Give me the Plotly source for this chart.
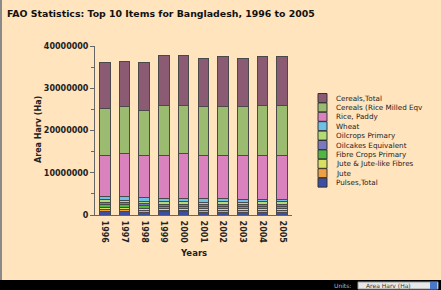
import plotly.graph_objects as go

years = ["1996", "1997", "1998", "1999", "2000", "2001", "2002", "2003", "2004", "2005"]

# series listed bottom of stack -> top of stack
series_names = [
    "Pulses,Total", "Jute", "Jute & Jute-like Fibres", "Fibre Crops Primary",
    "Oilcakes Equivalent", "Oilcrops Primary", "Wheat", "Rice, Paddy",
    "Cereals (Rice Milled Eqv", "Cereals,Total",
]
pulses = [820000, 840000, 650000, 730000, 720000, 610000, 670000, 610000, 590000, 580000]
jute = [520000, 480000, 460000, 410000, 430000, 440000, 430000, 430000, 450000, 470000]
jute_like = [550000, 520000, 500000, 440000, 460000, 470000, 460000, 460000, 480000, 500000]
fibre = [600000, 560000, 550000, 480000, 500000, 520000, 500000, 500000, 520000, 540000]
oilcakes = [480000, 480000, 460000, 440000, 440000, 440000, 450000, 460000, 480000, 500000]
oilcrops = [620000, 620000, 600000, 580000, 580000, 580000, 580000, 600000, 620000, 640000]
wheat = [710000, 800000, 880000, 820000, 770000, 740000, 710000, 640000, 560000, 470000]
rice_paddy = [9900000, 10300000, 10100000, 10300000, 10700000, 10400000, 10400000, 10500000, 10500000, 10500000]
cereals_milled = [11000000, 11000000, 10600000, 11800000, 11400000, 11400000, 11400000, 11400000, 11800000, 11800000]
cereals_total = [11000000, 10800000, 11400000, 11800000, 11800000, 11500000, 11800000, 11500000, 11600000, 11600000]
series_values = [pulses, jute, jute_like, fibre, oilcakes, oilcrops, wheat,
                 rice_paddy, cereals_milled, cereals_total]
series_colors = ["#3C4FA0", "#F0A040", "#D8E060", "#50B840", "#7B78C0",
                 "#B4DA78", "#6EC0E8", "#DA82BE", "#9BBB70", "#8B5A73"]

W, H = 441, 290
L, R, T, B = 95, 149, 46, 75
PW, PH = W - L - R, H - T - B
BG = "#FFE4BD"


def px_x(x):
    return (x - L) / PW


def px_y(y):
    return (H - B - y) / PH


fig = go.Figure()
for name, vals, col in zip(series_names, series_values, series_colors):
    fig.add_trace(go.Bar(
        x=years, y=vals, name=name,
        marker=dict(color=col, line=dict(color="#4a4a4a", width=1)),
        showlegend=False,
    ))

shapes = []
annotations = []
# custom compact legend, top item = top of stack
for i, (name, col) in enumerate(zip(reversed(series_names), reversed(series_colors))):
    cy = 98 + i * 9.4
    shapes.append(dict(type="rect", xref="paper", yref="paper",
                       x0=px_x(318), x1=px_x(327), y0=px_y(cy + 4.5), y1=px_y(cy - 4.5),
                       fillcolor=col, line=dict(color="#333333", width=1)))
    annotations.append(dict(xref="paper", yref="paper", x=px_x(334), y=px_y(cy),
                            xanchor="left", yanchor="middle", showarrow=False,
                            text=name, font=dict(family="DejaVu Sans", size=7.2, color="#222222")))

# title
annotations.append(dict(xref="paper", yref="paper", x=px_x(5), y=px_y(14),
                        xanchor="left", yanchor="middle", showarrow=False,
                        text="<b>FAO Statistics: Top 10 Items for Bangladesh, 1996 to 2005</b>",
                        font=dict(family="DejaVu Sans", size=9.4, color="#111111")))
# axis titles
annotations.append(dict(xref="paper", yref="paper", x=px_x(38), y=px_y(130),
                        xanchor="center", yanchor="middle", showarrow=False, textangle=-90,
                        text="<b>Area Harv (Ha)</b>",
                        font=dict(family="DejaVu Sans", size=8, color="#222222")))
annotations.append(dict(xref="paper", yref="paper", x=px_x(193), y=px_y(253),
                        xanchor="center", yanchor="middle", showarrow=False,
                        text="<b>Years</b>",
                        font=dict(family="DejaVu Sans", size=8.5, color="#222222")))

# left border and bottom black band
shapes.append(dict(type="line", xref="paper", yref="paper", x0=px_x(1), x1=px_x(1),
                   y0=px_y(0), y1=px_y(280), line=dict(color="#8a8a8a", width=2)))
shapes.append(dict(type="rect", xref="paper", yref="paper", x0=px_x(0), x1=px_x(441),
                   y0=px_y(290), y1=px_y(280), fillcolor="#000000", line=dict(width=0)))
shapes.append(dict(type="rect", xref="paper", yref="paper", x0=px_x(358), x1=px_x(438),
                   y0=px_y(289), y1=px_y(282), fillcolor="#E8E8E8", line=dict(color="#999999", width=1)))
shapes.append(dict(type="rect", xref="paper", yref="paper", x0=px_x(430), x1=px_x(437),
                   y0=px_y(289), y1=px_y(282), fillcolor="#4A78C8", line=dict(width=0)))
annotations.append(dict(xref="paper", yref="paper", x=px_x(353), y=px_y(285.5),
                        xanchor="right", yanchor="middle", showarrow=False, text="Units:",
                        font=dict(family="DejaVu Sans", size=6, color="#BBBBBB")))
annotations.append(dict(xref="paper", yref="paper", x=px_x(364), y=px_y(285.5),
                        xanchor="left", yanchor="middle", showarrow=False, text="Area Harv (Ha)",
                        font=dict(family="DejaVu Sans", size=6, color="#333333")))

fig.update_layout(
    width=W, height=H,
    margin=dict(l=L, r=R, t=T, b=B),
    paper_bgcolor=BG, plot_bgcolor=BG,
    barmode="stack", bargap=0.46,
    showlegend=False,
    shapes=shapes, annotations=annotations,
    font=dict(family="DejaVu Sans", size=8, color="#222222"),
    xaxis=dict(type="category", showgrid=False, showline=True, linecolor="#666666", linewidth=1,
               ticks="", tickangle=90, tickfont=dict(family="DejaVu Sans", size=8, color="#222222"),
               ticklabelstandoff=3),
    yaxis=dict(range=[0, 40000000], dtick=10000000, tickformat="d", showgrid=False,
               zeroline=False, showline=True, linecolor="#666666", linewidth=1,
               ticks="outside", ticklen=4, tickcolor="#666666",
               minor=dict(dtick=5000000, ticks="outside", ticklen=3, tickcolor="#666666"),
               tickfont=dict(family="DejaVu Sans", size=8, color="#222222")),
)
fig.update_xaxes(tickprefix="<b>", ticksuffix="</b>")
fig.update_yaxes(tickprefix="<b>", ticksuffix="</b>")

fig.write_html(
    "out.html",
    config={"displayModeBar": False},
    post_script="document.body.style.margin='0';document.body.style.overflow='hidden';",
)
